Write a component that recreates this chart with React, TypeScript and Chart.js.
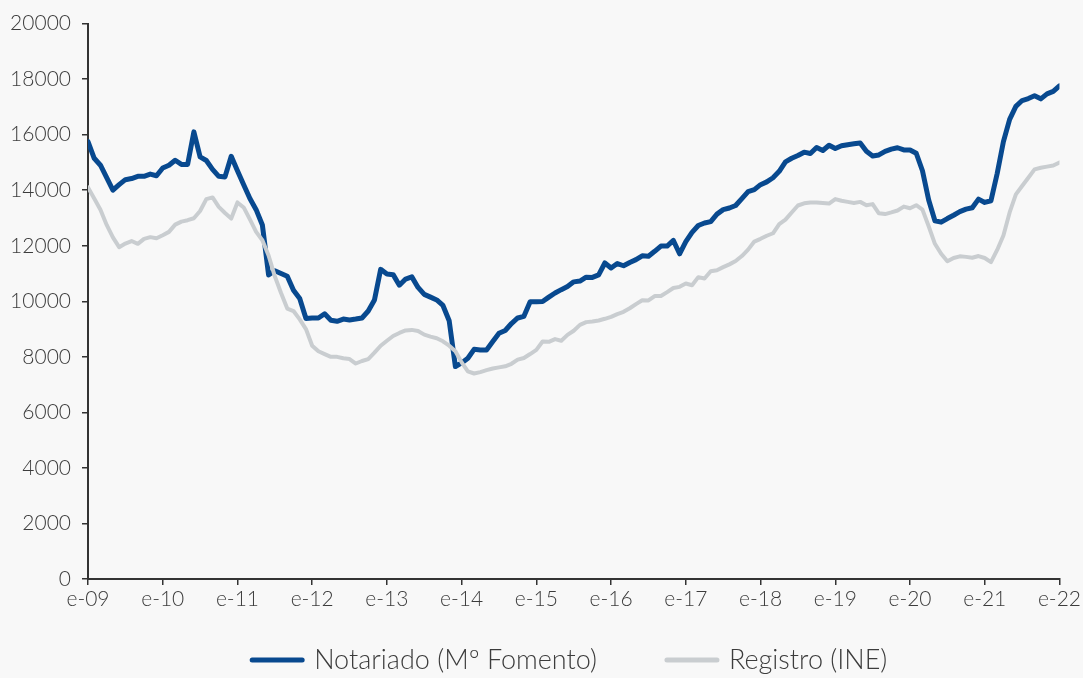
import React, { useEffect, useRef } from "react";
import { Chart, registerables } from "chart.js";

Chart.register(...registerables);

const yearLabels = ["e-09", "e-10", "e-11", "e-12", "e-13", "e-14", "e-15", "e-16", "e-17", "e-18", "e-19", "e-20", "e-21", "e-22"];

// Monthly values, Jan 2009 .. Jan 2022
const notariado = [
  15750, 15150, 14900, 14450, 14000, 14200, 14380, 14420, 14500, 14500, 14580, 14520,
  14800, 14900, 15080, 14930, 14930, 16100, 15200, 15070, 14750, 14500, 14480, 15220,
  14700, 14200, 13700, 13300, 12750, 10950, 11100, 11000, 10900, 10400, 10100, 9380,
  9400, 9400, 9550, 9320, 9280, 9360, 9330, 9360, 9400, 9650, 10050, 11150,
  10980, 10960, 10580, 10800, 10880, 10500, 10250, 10150, 10050, 9850, 9300, 7650,
  7780, 7950, 8270, 8250, 8250, 8550, 8850, 8950, 9200, 9400, 9460, 9980,
  9980, 9990, 10150, 10300, 10420, 10530, 10700, 10730, 10870, 10860, 10950, 11380,
  11200, 11360, 11280, 11400, 11500, 11640, 11620, 11800, 11990, 11990, 12190, 11710,
  12150, 12480, 12730, 12820, 12870, 13140, 13300, 13360, 13450, 13700, 13950, 14020,
  14200, 14300, 14450, 14680, 15020, 15150, 15250, 15370, 15320, 15540, 15430, 15620,
  15500, 15600, 15640, 15670, 15700, 15400, 15230, 15270, 15400, 15480, 15530, 15450,
  15450, 15330, 14700, 13650, 12900, 12850, 12980, 13100, 13230, 13320, 13370, 13680,
  13560, 13620, 14600, 15750, 16550, 17020, 17230, 17300, 17400, 17290, 17470, 17560,
  17760,
];

const registro = [
  14100, 13700, 13300, 12750, 12300, 11950, 12080, 12170, 12070, 12250, 12310, 12270,
  12380, 12500, 12760, 12870, 12920, 12990, 13250, 13680, 13740, 13400, 13180, 12980,
  13560, 13380, 12950, 12500, 12200, 11650, 10900, 10300, 9740, 9650, 9350, 9000,
  8400, 8200, 8100, 8000, 8000, 7950, 7920, 7760, 7850, 7920, 8150, 8400,
  8580, 8750, 8860, 8950, 8970, 8930, 8800, 8730, 8670, 8560, 8400, 8200,
  7800, 7480, 7400, 7450, 7520, 7580, 7620, 7660, 7750, 7900, 7960, 8100,
  8250, 8550, 8540, 8640, 8580, 8790, 8940, 9150, 9250, 9270, 9310, 9370,
  9440, 9540, 9620, 9750, 9900, 10040, 10030, 10190, 10190, 10330, 10480, 10520,
  10640, 10580, 10870, 10820, 11080, 11120, 11230, 11330, 11450, 11630, 11860, 12150,
  12250, 12360, 12450, 12780, 12940, 13200, 13450, 13530, 13560, 13560, 13540, 13520,
  13680, 13620, 13580, 13540, 13580, 13460, 13500, 13170, 13140, 13200, 13270, 13410,
  13350, 13460, 13300, 12700, 12070, 11710, 11440, 11560, 11620, 11600, 11570, 11630,
  11560, 11410, 11850, 12370, 13200, 13850, 14150, 14450, 14750, 14810, 14850, 14890,
  15000,
];

const seriesNames = ["Notariado (Mº Fomento)", "Registro (INE)"];

const BLUE = "#08498f";
const GRAY = "#c9cdd0";
const BG = "#f8f8f8";
const TEXT = "#3c3c3c";
const AXIS = "#333333";

export default function App() {
  const ref = useRef<HTMLCanvasElement | null>(null);

  useEffect(() => {
    if (!ref.current) return;

    const bgPlugin = {
      id: "bg",
      beforeDraw(chart: any) {
        const c = chart.ctx;
        c.save();
        c.fillStyle = BG;
        c.fillRect(0, 0, chart.width, chart.height);
        c.restore();
      },
    };

    const legendPlugin = {
      id: "customLegend",
      afterDraw(chart: any) {
        const c = chart.ctx;
        c.save();
        c.font = "300 27px Lato";
        c.textBaseline = "middle";
        c.textAlign = "left";
        const items = [
          { text: seriesNames[0], color: BLUE },
          { text: seriesNames[1], color: GRAY },
        ];
        const sw = 54;
        const gap = 10;
        const itemGap = 68;
        const widths = items.map((it) => sw + gap + c.measureText(it.text).width);
        const total = widths[0] + widths[1] + itemGap;
        const center = (chart.chartArea.left + chart.chartArea.right) / 2 - 5;
        let x = center - total / 2;
        const y = chart.height - 18;
        items.forEach((it, i) => {
          c.strokeStyle = it.color;
          c.lineWidth = 5;
          c.lineCap = "round";
          c.beginPath();
          c.moveTo(x + 2, y);
          c.lineTo(x + sw - 2, y);
          c.stroke();
          c.fillStyle = TEXT;
          c.fillText(it.text, x + sw + gap, y);
          x += widths[i] + itemGap;
        });
        c.restore();
      },
    };

    const chart = new Chart(ref.current, {
      type: "line",
      data: {
        datasets: [
          {
            label: seriesNames[0],
            data: notariado.map((v, i) => ({ x: i, y: v })),
            borderColor: BLUE,
            backgroundColor: BLUE,
            borderWidth: 5,
            pointRadius: 0,
            tension: 0,
            borderJoinStyle: "round",
            borderCapStyle: "round",
            order: 1,
          },
          {
            label: seriesNames[1],
            data: registro.map((v, i) => ({ x: i, y: v })),
            borderColor: GRAY,
            backgroundColor: GRAY,
            borderWidth: 4,
            pointRadius: 0,
            tension: 0,
            borderJoinStyle: "round",
            borderCapStyle: "round",
            order: 0,
          },
        ],
      },
      options: {
        responsive: false,
        animation: false,
        layout: { padding: { left: 0, right: 23, top: 20, bottom: 64 } },
        plugins: {
          legend: { display: false },
          tooltip: { enabled: false },
        },
        scales: {
          x: {
            type: "linear",
            min: 0,
            max: 156,
            afterFit(scale: any) {
              scale.height = 35;
            },
            afterBuildTicks(scale: any) {
              scale.ticks = yearLabels.map((_, i) => ({ value: i * 12 }));
            },
            ticks: {
              autoSkip: false,
              maxRotation: 0,
              padding: 2,
              color: TEXT,
              font: { family: "Lato", size: 21, weight: "300" },
              callback: (v: any) => yearLabels[Math.round(Number(v) / 12)] ?? "",
            },
            grid: {
              drawOnChartArea: false,
              drawTicks: true,
              tickLength: 6,
              color: AXIS,
              lineWidth: 1.5,
            },
            border: { display: true, color: AXIS, width: 2 },
          },
          y: {
            min: 0,
            max: 20000,
            afterFit(scale: any) {
              scale.width = 88;
            },
            ticks: {
              stepSize: 2000,
              padding: 11,
              color: TEXT,
              font: { family: "Lato", size: 21, weight: "300" },
              callback: (v: any) => String(v),
            },
            grid: {
              drawOnChartArea: false,
              drawTicks: true,
              tickLength: 6,
              color: AXIS,
              lineWidth: 1.5,
            },
            border: { display: true, color: AXIS, width: 2 },
          },
        },
      },
      plugins: [bgPlugin, legendPlugin],
    });

    return () => chart.destroy();
  }, []);

  return (
    <div style={{ position: "fixed", left: 0, top: 0, width: 1083, height: 678, background: BG }}>
      <canvas ref={ref} width={1083} height={678} style={{ display: "block" }} />
    </div>
  );
}
